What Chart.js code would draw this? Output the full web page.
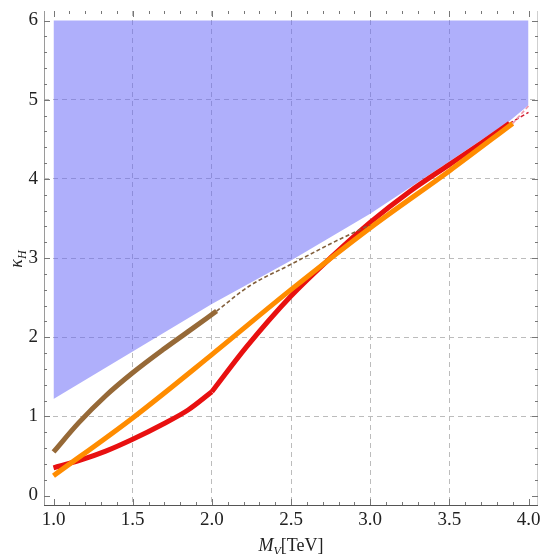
<!DOCTYPE html>
<html>
<head>
<meta charset="utf-8">
<script src="https://cdn.jsdelivr.net/npm/chart.js@4.4.0/dist/chart.umd.min.js"></script>
<style>
  html, body { margin: 0; padding: 0; background: #fff; }
</style>
</head>
<body>
<canvas id="chart" width="544" height="554"></canvas>
<script>
// axis ticks
const xTicks = [1.0, 1.5, 2.0, 2.5, 3.0, 3.5, 4.0];
const xTickLabels = ["1.0", "1.5", "2.0", "2.5", "3.0", "3.5", "4.0"];
const yTicks = [0, 1, 2, 3, 4, 5, 6];
const yTickLabels = ["0", "1", "2", "3", "4", "5", "6"];

// excluded (shaded) region: lower edge, filled up to kappa = 6
const shadeX = [1.0, 1.5, 2.0, 2.5, 3.0, 3.5, 3.88, 4.0];
const shadeY = [1.22, 1.82, 2.42, 2.97, 3.56, 4.22, 4.73, 4.93];
const shadeTop = 6;

// red curve (kink at 2 TeV)
const redLowX = [1.0, 1.16, 1.33, 1.5, 1.69, 1.85, 2.0];
const redLowY = [0.35, 0.44, 0.56, 0.71, 0.9, 1.08, 1.31];
const redHighX = [2.0, 2.22, 2.5, 2.77, 3.0, 3.25, 3.5, 3.7, 3.88];
const redHighY = [1.31, 1.88, 2.52, 3.04, 3.45, 3.84, 4.18, 4.45, 4.7];
const redDashX = [3.88, 4.0];
const redDashY = [4.7, 4.84];

// orange curve
const orangeX = [1.0, 1.5, 2.0, 2.5, 3.0, 3.5, 3.9];
const orangeY = [0.25, 0.98, 1.78, 2.6, 3.38, 4.1, 4.7];
const pinkDashX = [3.9, 4.0];
const pinkDashY = [4.7, 4.92];

// brown curve (solid part, then dashed continuation)
const brownX = [1.0, 1.16, 1.33, 1.5, 1.69, 1.85, 2.03];
const brownY = [0.55, 0.92, 1.26, 1.55, 1.84, 2.07, 2.33];
const brownDashX = [2.03, 2.24, 2.5, 2.75, 3.0];
const brownDashY = [2.33, 2.65, 2.92, 3.18, 3.42];

function pts(xs, ys) {
    return xs.map((x, i) => ({ x: x, y: ys[i] }));
}

const serif = "'Liberation Serif', 'DejaVu Serif', serif";

// frame, inward ticks and axis titles
const framePlugin = {
    id: "frame",
    afterDraw(chart) {
        const ctx = chart.ctx;
        const a = chart.chartArea;
        const xs = chart.scales.x;
        const ys = chart.scales.y;
        ctx.save();
        ctx.lineWidth = 1;

        // frame
        ctx.strokeStyle = "#9a9a9a";
        ctx.beginPath();
        ctx.moveTo(a.left + 0.5, a.top);
        ctx.lineTo(a.left + 0.5, a.bottom);
        ctx.stroke();
        ctx.strokeStyle = "#555";
        ctx.beginPath();
        ctx.moveTo(a.left, a.bottom + 0.5);
        ctx.lineTo(a.right, a.bottom + 0.5);
        ctx.stroke();
        ctx.strokeStyle = "#cfcfcf";
        ctx.beginPath();
        ctx.moveTo(a.right - 0.5, a.top);
        ctx.lineTo(a.right - 0.5, a.bottom);
        ctx.stroke();

        // ticks
        ctx.strokeStyle = "#777";
        for (let i = 0; i <= 30; i++) {
            const px = Math.round(xs.getPixelForValue(1 + i / 10)) + 0.5;
            const len = i % 5 === 0 ? 6 : 3;
            ctx.beginPath();
            ctx.moveTo(px, a.bottom);
            ctx.lineTo(px, a.bottom - len);
            ctx.moveTo(px, a.top);
            ctx.lineTo(px, a.top + len);
            ctx.stroke();
        }
        for (let i = 0; i <= 30; i++) {
            const py = Math.round(ys.getPixelForValue(i / 5)) + 0.5;
            const len = i % 5 === 0 ? 6 : 3;
            ctx.beginPath();
            ctx.moveTo(a.left, py);
            ctx.lineTo(a.left + len, py);
            ctx.moveTo(a.right, py);
            ctx.lineTo(a.right - len, py);
            ctx.stroke();
        }

        // x title: M_V[TeV]
        ctx.fillStyle = "#222";
        ctx.textBaseline = "alphabetic";
        ctx.textAlign = "left";
        const fBig = "italic 18px " + serif;
        const fSub = "italic 12px " + serif;
        const fReg = "18px " + serif;
        ctx.font = fBig; const wM = ctx.measureText("M").width;
        ctx.font = fSub; const wV = ctx.measureText("V").width;
        ctx.font = fReg; const wT = ctx.measureText("[TeV]").width;
        let x0 = 291 - (wM + wV + wT) / 2;
        const by = 551;
        ctx.font = fBig; ctx.fillText("M", x0, by); x0 += wM;
        ctx.font = fSub; ctx.fillText("V", x0, by + 4); x0 += wV;
        ctx.font = fReg; ctx.fillText("[TeV]", x0, by);

        // y title: kappa_H
        ctx.translate(22, 259);
        ctx.rotate(-Math.PI / 2);
        ctx.font = fBig; const wk = ctx.measureText("κ").width;
        ctx.font = fSub; const wH = ctx.measureText("H").width;
        let y0 = -(wk + wH) / 2;
        ctx.font = fBig; ctx.fillText("κ", y0, 0); y0 += wk;
        ctx.font = fSub; ctx.fillText("H", y0, 4);
        ctx.restore();
    }
};

function gridColor(edgeA, edgeB) {
    return ctx => {
        const v = ctx.tick ? ctx.tick.value : null;
        return (v === edgeA || v === edgeB) ? "rgba(0,0,0,0)" : "#bcbcbc";
    };
}

function line(xs, ys, color, width, order, dash) {
    return {
        data: pts(xs, ys),
        borderColor: color,
        borderWidth: width,
        borderDash: dash || [],
        pointRadius: 0,
        cubicInterpolationMode: "monotone",
        order: order
    };
}

new Chart(document.getElementById("chart"), {
    type: "line",
    data: {
        datasets: [
            line(brownX, brownY, "rgb(150,105,55)", 5, 1),
            line(brownDashX, brownDashY, "rgb(130,95,60)", 1.6, 2, [4, 2.5]),
            line(orangeX, orangeY, "rgb(255,140,0)", 5, 3),
            line(pinkDashX, pinkDashY, "rgb(240,150,170)", 1.6, 4, [4, 2.5]),
            line(redLowX, redLowY, "rgb(232,16,16)", 5, 5),
            line(redHighX, redHighY, "rgb(232,16,16)", 5, 5),
            line(redDashX, redDashY, "rgb(210,30,50)", 1.6, 6, [4, 2.5]),
            {
                data: pts(shadeX, shadeY),
                borderWidth: 0,
                borderColor: "rgba(0,0,0,0)",
                backgroundColor: "rgba(96,96,248,0.5)",
                fill: { value: shadeTop },
                pointRadius: 0,
                order: 10
            }
        ]
    },
    options: {
        responsive: false,
        animation: false,
        layout: { padding: { top: 11, right: 6, left: 0, bottom: 0 } },
        plugins: {
            legend: { display: false },
            tooltip: { enabled: false }
        },
        scales: {
            x: {
                type: "linear",
                min: 0.94,
                max: 4.06,
                afterBuildTicks: s => { s.ticks = xTicks.map(v => ({ value: v })); },
                afterFit: s => { s.height = 49; s.paddingLeft = 0; s.paddingRight = 0; },
                ticks: {
                    autoSkip: false,
                    maxRotation: 0,
                    padding: 4,
                    color: "#222",
                    font: { family: serif, size: 19 },
                    callback: (v, i) => xTickLabels[i]
                },
                grid: {
                    drawTicks: false,
                    color: gridColor(1.0, 4.0),
                    lineWidth: 1
                },
                border: { display: false, dash: [5, 4] }
            },
            y: {
                type: "linear",
                min: -0.12,
                max: 6.12,
                afterBuildTicks: s => { s.ticks = yTicks.map(v => ({ value: v })); },
                afterFit: s => { s.width = 44; s.paddingTop = 0; s.paddingBottom = 0; },
                ticks: {
                    autoSkip: false,
                    padding: 6,
                    color: "#222",
                    font: { family: serif, size: 19 },
                    callback: (v, i) => yTickLabels[i]
                },
                grid: {
                    drawTicks: false,
                    color: gridColor(0, 6),
                    lineWidth: 1
                },
                border: { display: false, dash: [5, 4] }
            }
        }
    },
    plugins: [framePlugin]
});
</script>
</body>
</html>
